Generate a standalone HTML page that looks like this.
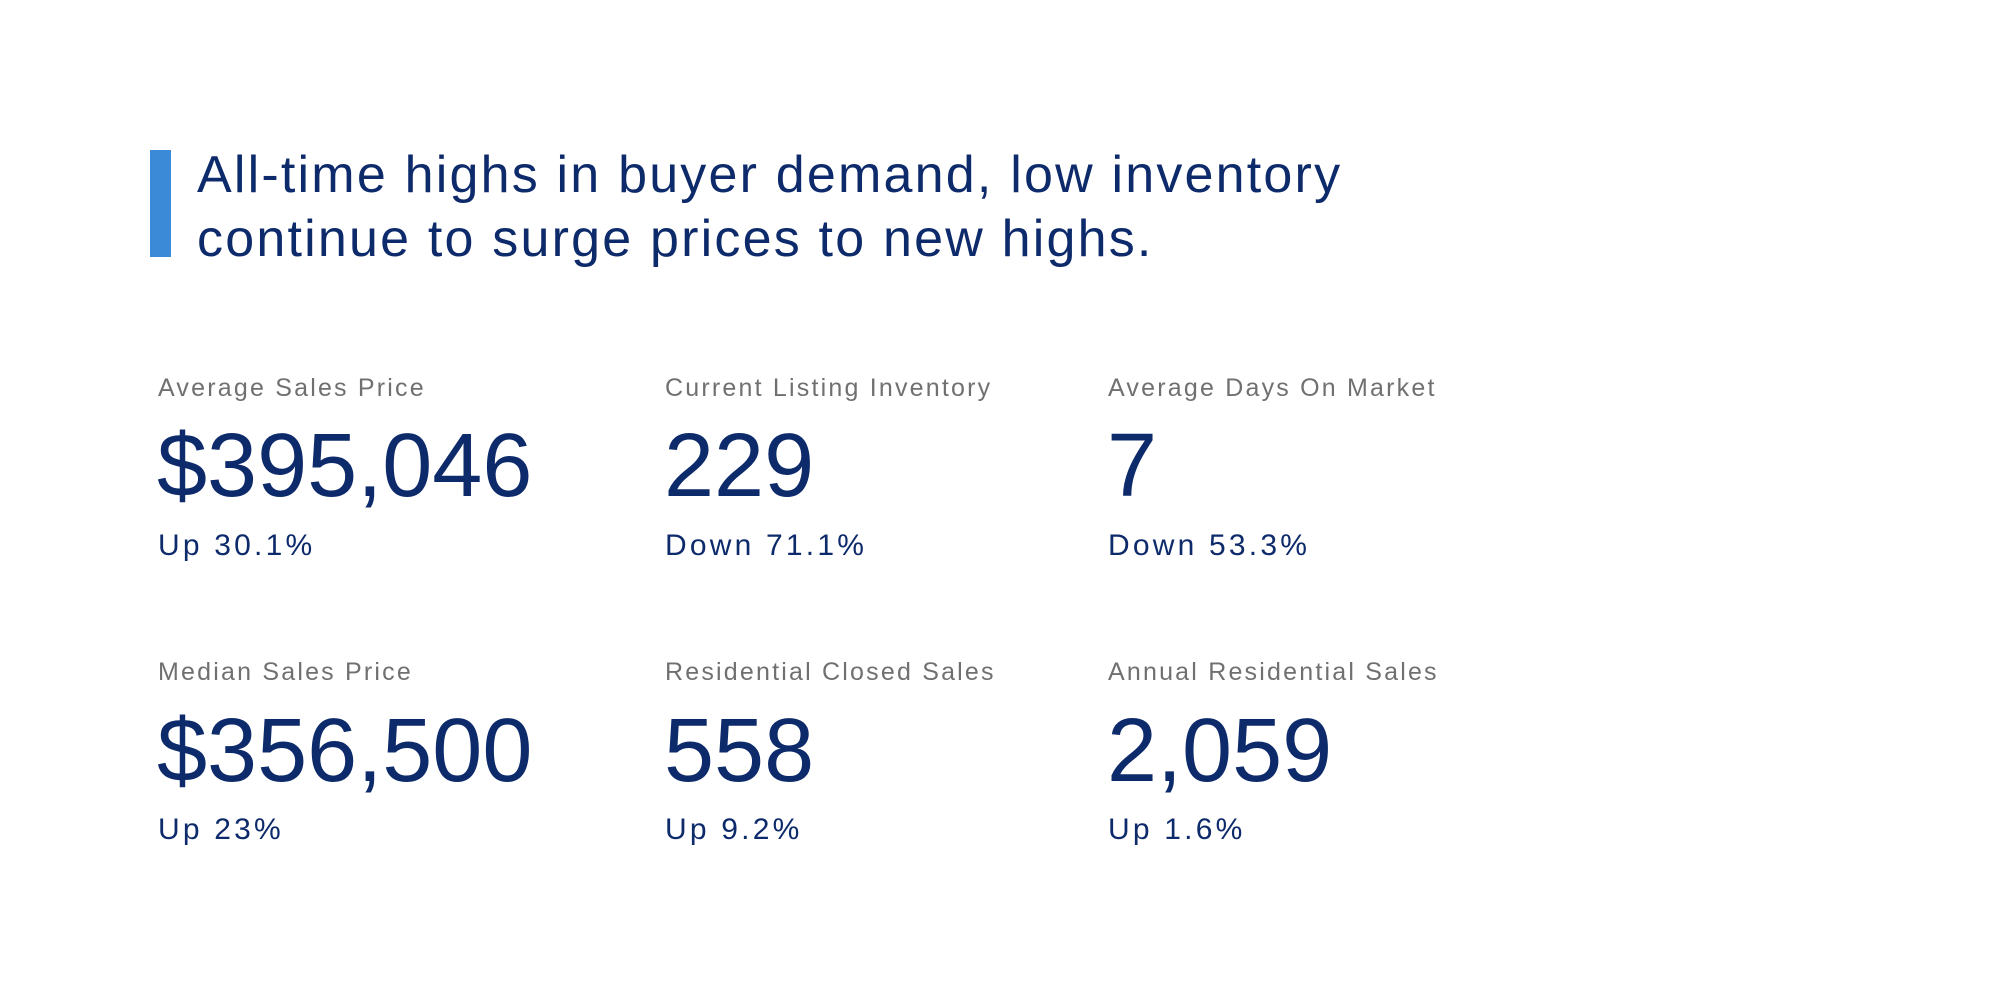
<!DOCTYPE html>
<html><head><meta charset="utf-8"><style>
body{margin:0;width:2000px;height:1000px;background:#fff;position:relative;overflow:hidden;font-family:"Liberation Sans",Arial,sans-serif}
div{position:absolute;white-space:nowrap}
.bar{left:150px;top:150px;width:21px;height:107px;background:#3a8ad8}
.title{left:197px;top:143px;font-size:52px;line-height:64px;color:#0d2a6b;letter-spacing:2.2px}
.l{font-size:25px;line-height:25px;color:#707070;letter-spacing:2.2px}
.n{font-size:90px;line-height:90px;color:#0d2a6b}
.s{font-size:30px;line-height:30px;color:#0d2a6b;letter-spacing:3.2px}
</style></head><body>
<div class="bar"></div>
<div class="title">All-time highs in buyer demand, low inventory<br>continue to surge prices to new highs.</div>

<div class="l" style="left:158px;top:376px">Average Sales Price</div>
<div class="n" style="left:157px;top:421px">$395,046</div>
<div class="s" style="left:158px;top:531px">Up 30.1%</div>

<div class="l" style="left:665px;top:376px">Current Listing Inventory</div>
<div class="n" style="left:664px;top:421px">229</div>
<div class="s" style="left:665px;top:531px">Down 71.1%</div>

<div class="l" style="left:1108px;top:376px">Average Days On Market</div>
<div class="n" style="left:1107px;top:421px">7</div>
<div class="s" style="left:1108px;top:531px">Down 53.3%</div>

<div class="l" style="left:158px;top:660px">Median Sales Price</div>
<div class="n" style="left:157px;top:706px">$356,500</div>
<div class="s" style="left:158px;top:815px">Up 23%</div>

<div class="l" style="left:665px;top:660px">Residential Closed Sales</div>
<div class="n" style="left:664px;top:706px">558</div>
<div class="s" style="left:665px;top:815px">Up 9.2%</div>

<div class="l" style="left:1108px;top:660px">Annual Residential Sales</div>
<div class="n" style="left:1107px;top:706px">2,059</div>
<div class="s" style="left:1108px;top:815px">Up 1.6%</div>
</body></html>
